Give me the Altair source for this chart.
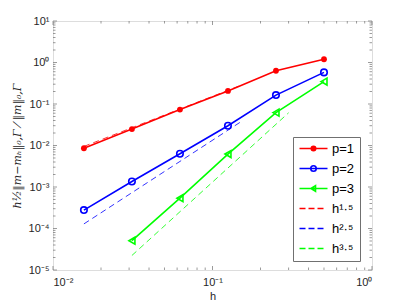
import altair as alt
import pandas as pd

# ---- data ----
h = [1/64, 1/32, 1/16, 1/8, 1/4, 1/2]
err_p1 = [0.0086, 0.0249, 0.0733, 0.207, 0.634, 1.20]
err_p2 = [2.78e-4, 1.36e-3, 6.34e-3, 0.0299, 0.164, 0.578]
h_p3 = [1/32, 1/16, 1/8, 1/4, 1/2]
err_p3 = [5.08e-5, 5.37e-4, 6.22e-3, 0.062, 0.347]

ref15_h = [1/64, 0.15]
ref15_v = [0.0095, 0.28]
ref25_h = [1/64, 0.15]
ref25_v = [1.29e-4, 0.0369]
ref35_h = [1/32, 0.30]
ref35_v = [2.24e-5, 0.0614]

series_names = ["p=1", "p=2", "p=3", "h¹·⁵", "h²·⁵", "h³·⁵"]
series_colors = ["#ff0000", "#0000ff", "#00ff00", "#ff0000", "#0000ff", "#00ff00"]

x_ticks = [0.01, 0.1, 1]
x_tick_labels = ["10⁻²", "10⁻¹", "10⁰"]
y_ticks = [1e-5, 1e-4, 1e-3, 1e-2, 1e-1, 1, 10]
y_tick_labels = ["10⁻⁵", "10⁻⁴", "10⁻³", "10⁻²", "10⁻¹", "10⁰", "10¹"]

W, H = 319, 249
AX = "#707070"
FONT = "Liberation Sans"


def label_expr(vals, labels):
    expr = "''"
    for v, l in reversed(list(zip(vals, labels))):
        expr = f"datum.value <= {v * 1.5} ? '{l}' : ({expr})"
    return expr


def minor(decades):
    out = []
    for d in decades[:-1]:
        for k in range(2, 10):
            out.append(d * k)
    return out


x_minor = minor(x_ticks)
y_minor = minor(y_ticks)

xscale = alt.Scale(type="log", domain=[x_ticks[0], x_ticks[-1]], nice=False)
yscale = alt.Scale(type="log", domain=[y_ticks[0], y_ticks[-1]], nice=False)

xaxis = alt.Axis(values=x_ticks, labelExpr=label_expr(x_ticks, x_tick_labels),
                 ticks=False, domain=False, grid=False, title="h",
                 labelFont=FONT, labelFontSize=11, labelColor="#262626",
                 labelPadding=6, titleFont=FONT, titleFontSize=11,
                 titleFontWeight="normal", titleColor="#262626", titlePadding=3)
yaxis = alt.Axis(values=y_ticks, labelExpr=label_expr(y_ticks, y_tick_labels),
                 ticks=False, domain=False, grid=False,
                 title="h½‖m−mₕ‖₀,Γ ⁄ ‖m‖₀,Γ",
                 labelFont=FONT, labelFontSize=11, labelColor="#262626",
                 labelPadding=4, titleFont="DejaVu Serif", titleFontSize=11,
                 titleFontStyle="italic", titleFontWeight="normal",
                 titleColor="#262626", titlePadding=6)

X = alt.X("h:Q", scale=xscale, axis=xaxis)
Y = alt.Y("v:Q", scale=yscale, axis=yaxis)

df1 = pd.DataFrame({"h": h, "v": err_p1})
df2 = pd.DataFrame({"h": h, "v": err_p2})
df3 = pd.DataFrame({"h": h_p3, "v": err_p3})
r15 = pd.DataFrame({"h": ref15_h, "v": ref15_v})
r25 = pd.DataFrame({"h": ref25_h, "v": ref25_v})
r35 = pd.DataFrame({"h": ref35_h, "v": ref35_v})

layers = []
for d, c in [(r15, series_colors[3]), (r25, series_colors[4]), (r35, series_colors[5])]:
    layers.append(alt.Chart(d).mark_line(strokeDash=[6, 4], strokeWidth=0.8)
                  .encode(x=X, y=Y, color=alt.value(c)))
for d, c in [(df1, series_colors[0]), (df2, series_colors[1]), (df3, series_colors[2])]:
    layers.append(alt.Chart(d).mark_line(strokeWidth=1.6).encode(x=X, y=Y, color=alt.value(c)))
layers.append(alt.Chart(df1).mark_point(shape="circle", filled=True, size=34, opacity=1)
              .encode(x=X, y=Y, color=alt.value(series_colors[0])))
layers.append(alt.Chart(df2).mark_point(shape="circle", filled=False, size=42, strokeWidth=1.6, opacity=1)
              .encode(x=X, y=Y, color=alt.value(series_colors[1])))
layers.append(alt.Chart(df3).mark_point(shape="triangle-left", filled=False, size=48, strokeWidth=1.6, opacity=1)
              .encode(x=X, y=Y, color=alt.value(series_colors[2])))

leg_rows = []
for name, d in zip(series_names, [df1, df2, df3, r15, r25, r35]):
    leg_rows.append({"s": name, "h": d["h"].iloc[0], "v": d["v"].iloc[0]})
leg_df = pd.DataFrame(leg_rows)
line = "M-1,0H4.6"
dash = "M-1,0H0.2M0.8,0H2M2.6,0H3.8"
paths = [
    line + "M2.25,0A0.45,0.45 0 1,1 1.35,0A0.45,0.45 0 1,1 2.25,0",
    line + "M2.35,0A0.55,0.55 0 1,1 1.25,0A0.55,0.55 0 1,1 2.35,0",
    line + "M1.3,0L2.2,-0.55L2.2,0.55Z",
    dash, dash, dash,
]
legend = alt.Legend(title=None, orient="none", legendX=240, legendY=116,
                    symbolOpacity=1, symbolSize=100, labelFont=FONT,
                    labelFontSize=13, labelColor="#000000", labelOffset=21,
                    strokeColor=AX, fillColor="white", padding=5, rowPadding=6,
                    cornerRadius=0)
layers.append(alt.Chart(leg_df).mark_point(opacity=0).encode(
    x=X, y=Y,
    color=alt.Color("s:N", scale=alt.Scale(domain=series_names, range=series_colors), legend=legend),
    shape=alt.Shape("s:N", scale=alt.Scale(domain=series_names, range=paths), legend=legend),
    fill=alt.Fill("s:N", scale=alt.Scale(domain=series_names,
                  range=["#ff0000", "transparent", "transparent", "transparent", "transparent", "transparent"]),
                  legend=legend),
    strokeWidth=alt.StrokeWidth("s:N", scale=alt.Scale(domain=series_names, range=[1.6, 1.6, 1.6, 0.8, 0.8, 0.8]),
                                legend=legend),
))


def tick_layers(vals, length):
    dx = pd.DataFrame({"h": vals})
    return [
        alt.Chart(dx).mark_rule(color=AX, strokeWidth=0.7).encode(
            x=alt.X("h:Q", scale=xscale, axis=xaxis), y=alt.value(H), y2=alt.value(H - length)),
        alt.Chart(dx).mark_rule(color=AX, strokeWidth=0.7).encode(
            x=alt.X("h:Q", scale=xscale, axis=xaxis), y=alt.value(0), y2=alt.value(length)),
    ]


def ytick_layers(vals, length):
    dy = pd.DataFrame({"v": vals})
    return [
        alt.Chart(dy).mark_rule(color=AX, strokeWidth=0.7).encode(
            y=alt.Y("v:Q", scale=yscale, axis=yaxis), x=alt.value(0), x2=alt.value(length)),
        alt.Chart(dy).mark_rule(color=AX, strokeWidth=0.7).encode(
            y=alt.Y("v:Q", scale=yscale, axis=yaxis), x=alt.value(W), x2=alt.value(W - length)),
    ]


tick_l = tick_layers(x_ticks, 4) + tick_layers(x_minor, 2.5) + ytick_layers(y_ticks, 4) + ytick_layers(y_minor, 2.5)

chart = alt.layer(*(tick_l + layers)).properties(
    width=W, height=H,
    autosize=alt.AutoSizeParams(type="none"),
    padding={"left": 45, "top": 13, "right": 24, "bottom": 30},
).configure_view(stroke=AX, strokeWidth=1).configure(background="white")

chart.save("out.html", embed_options={"renderer": "svg", "actions": False})
